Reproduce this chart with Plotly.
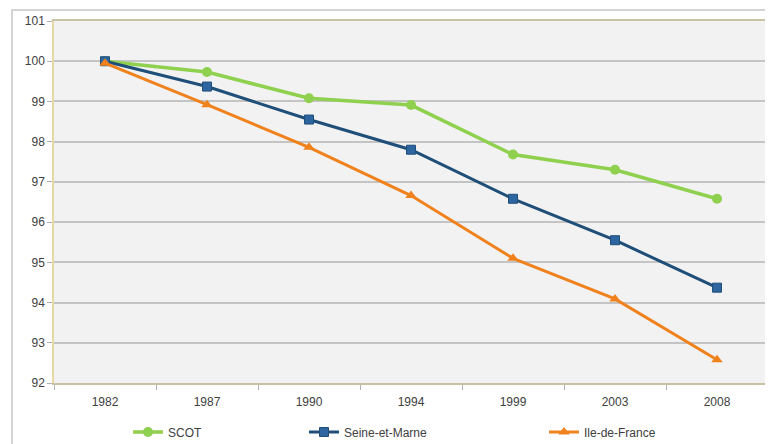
import plotly.graph_objects as go

years = ["1982", "1987", "1990", "1994", "1999", "2003", "2008"]
scot = [100.0, 99.73, 99.08, 98.91, 97.68, 97.30, 96.58]
seine_et_marne = [100.0, 99.37, 98.55, 97.80, 96.58, 95.55, 94.37]
ile_de_france = [99.95, 98.92, 97.86, 96.66, 95.10, 94.09, 92.58]
y_ticks = [92, 93, 94, 95, 96, 97, 98, 99, 100, 101]

# page is offset by the default 8px body margin
OFF = 8
W, H = 773, 444
L, R, T, B = 54 - OFF, 13, 21 - OFF, 69
pw = W - L - R
ph = H - T - B

fig = go.Figure()
fig.add_trace(go.Scatter(
    x=years, y=scot, name="SCOT", mode="lines+markers",
    line=dict(color="#8fd14f", width=3.5),
    marker=dict(symbol="circle", size=10, color="#8fd14f"),
    legend="legend", showlegend=True))
fig.add_trace(go.Scatter(
    x=years, y=seine_et_marne, name="Seine-et-Marne", mode="lines+markers",
    line=dict(color="#1f4e79", width=3),
    marker=dict(symbol="square", size=9, color="#2c65a0",
                line=dict(color="#1f4e79", width=1)),
    legend="legend2", showlegend=True))
fig.add_trace(go.Scatter(
    x=years, y=ile_de_france, name="Ile-de-France", mode="lines+markers",
    line=dict(color="#f0821e", width=3),
    marker=dict(symbol="triangle-up", size=10, color="#f0821e"),
    legend="legend3", showlegend=True))

def px_x(p):
    return (p - OFF - L) / pw

def px_y(p):
    return (H - B - (p - OFF)) / ph

leg_common = dict(orientation="h", yanchor="middle", xanchor="left",
                  font=dict(family="Liberation Sans, Arial", size=12, color="#404040"),
                  bgcolor="rgba(0,0,0,0)", itemwidth=30)
fig.update_layout(
    width=W, height=H,
    showlegend=True,
    margin=dict(l=L, r=R, t=T, b=B, autoexpand=False),
    paper_bgcolor="white",
    plot_bgcolor="#f2f2f2",
    font=dict(family="Liberation Sans, Arial", size=11, color="#404040"),
    legend=dict(x=px_x(128), y=px_y(432), **leg_common),
    legend2=dict(x=px_x(304), y=px_y(432), **leg_common),
    legend3=dict(x=px_x(544), y=px_y(432), **leg_common),
    xaxis=dict(type="category", range=[-0.5, len(years) - 0.5],
               showgrid=False, showline=True, automargin=False,
               linecolor="#c9c2a4", linewidth=1.5, mirror=True,
               ticks="outside", tickson="boundaries", ticklen=5,
               ticklabelstandoff=7,
               tickcolor="#b0b0b0", tickfont=dict(size=12, color="#404040")),
    yaxis=dict(range=[92, 101], tickvals=y_ticks, showgrid=True, automargin=False,
               gridcolor="#c4c4c4", gridwidth=1.5, zeroline=False,
               showline=True, linecolor="#e6d9a6", linewidth=1.5, mirror=True,
               ticks="outside", ticklen=5, tickcolor="#b0b0b0",
               ticklabelstandoff=0,
               tickfont=dict(size=12, color="#404040")),
    shapes=[dict(type="rect", xref="paper", yref="paper",
                 x0=px_x(12), x1=px_x(800), y0=px_y(480), y1=px_y(10),
                 line=dict(color="#d4d4d4", width=2), fillcolor="rgba(0,0,0,0)",
                 layer="below")],
)

fig.write_html("out.html")
